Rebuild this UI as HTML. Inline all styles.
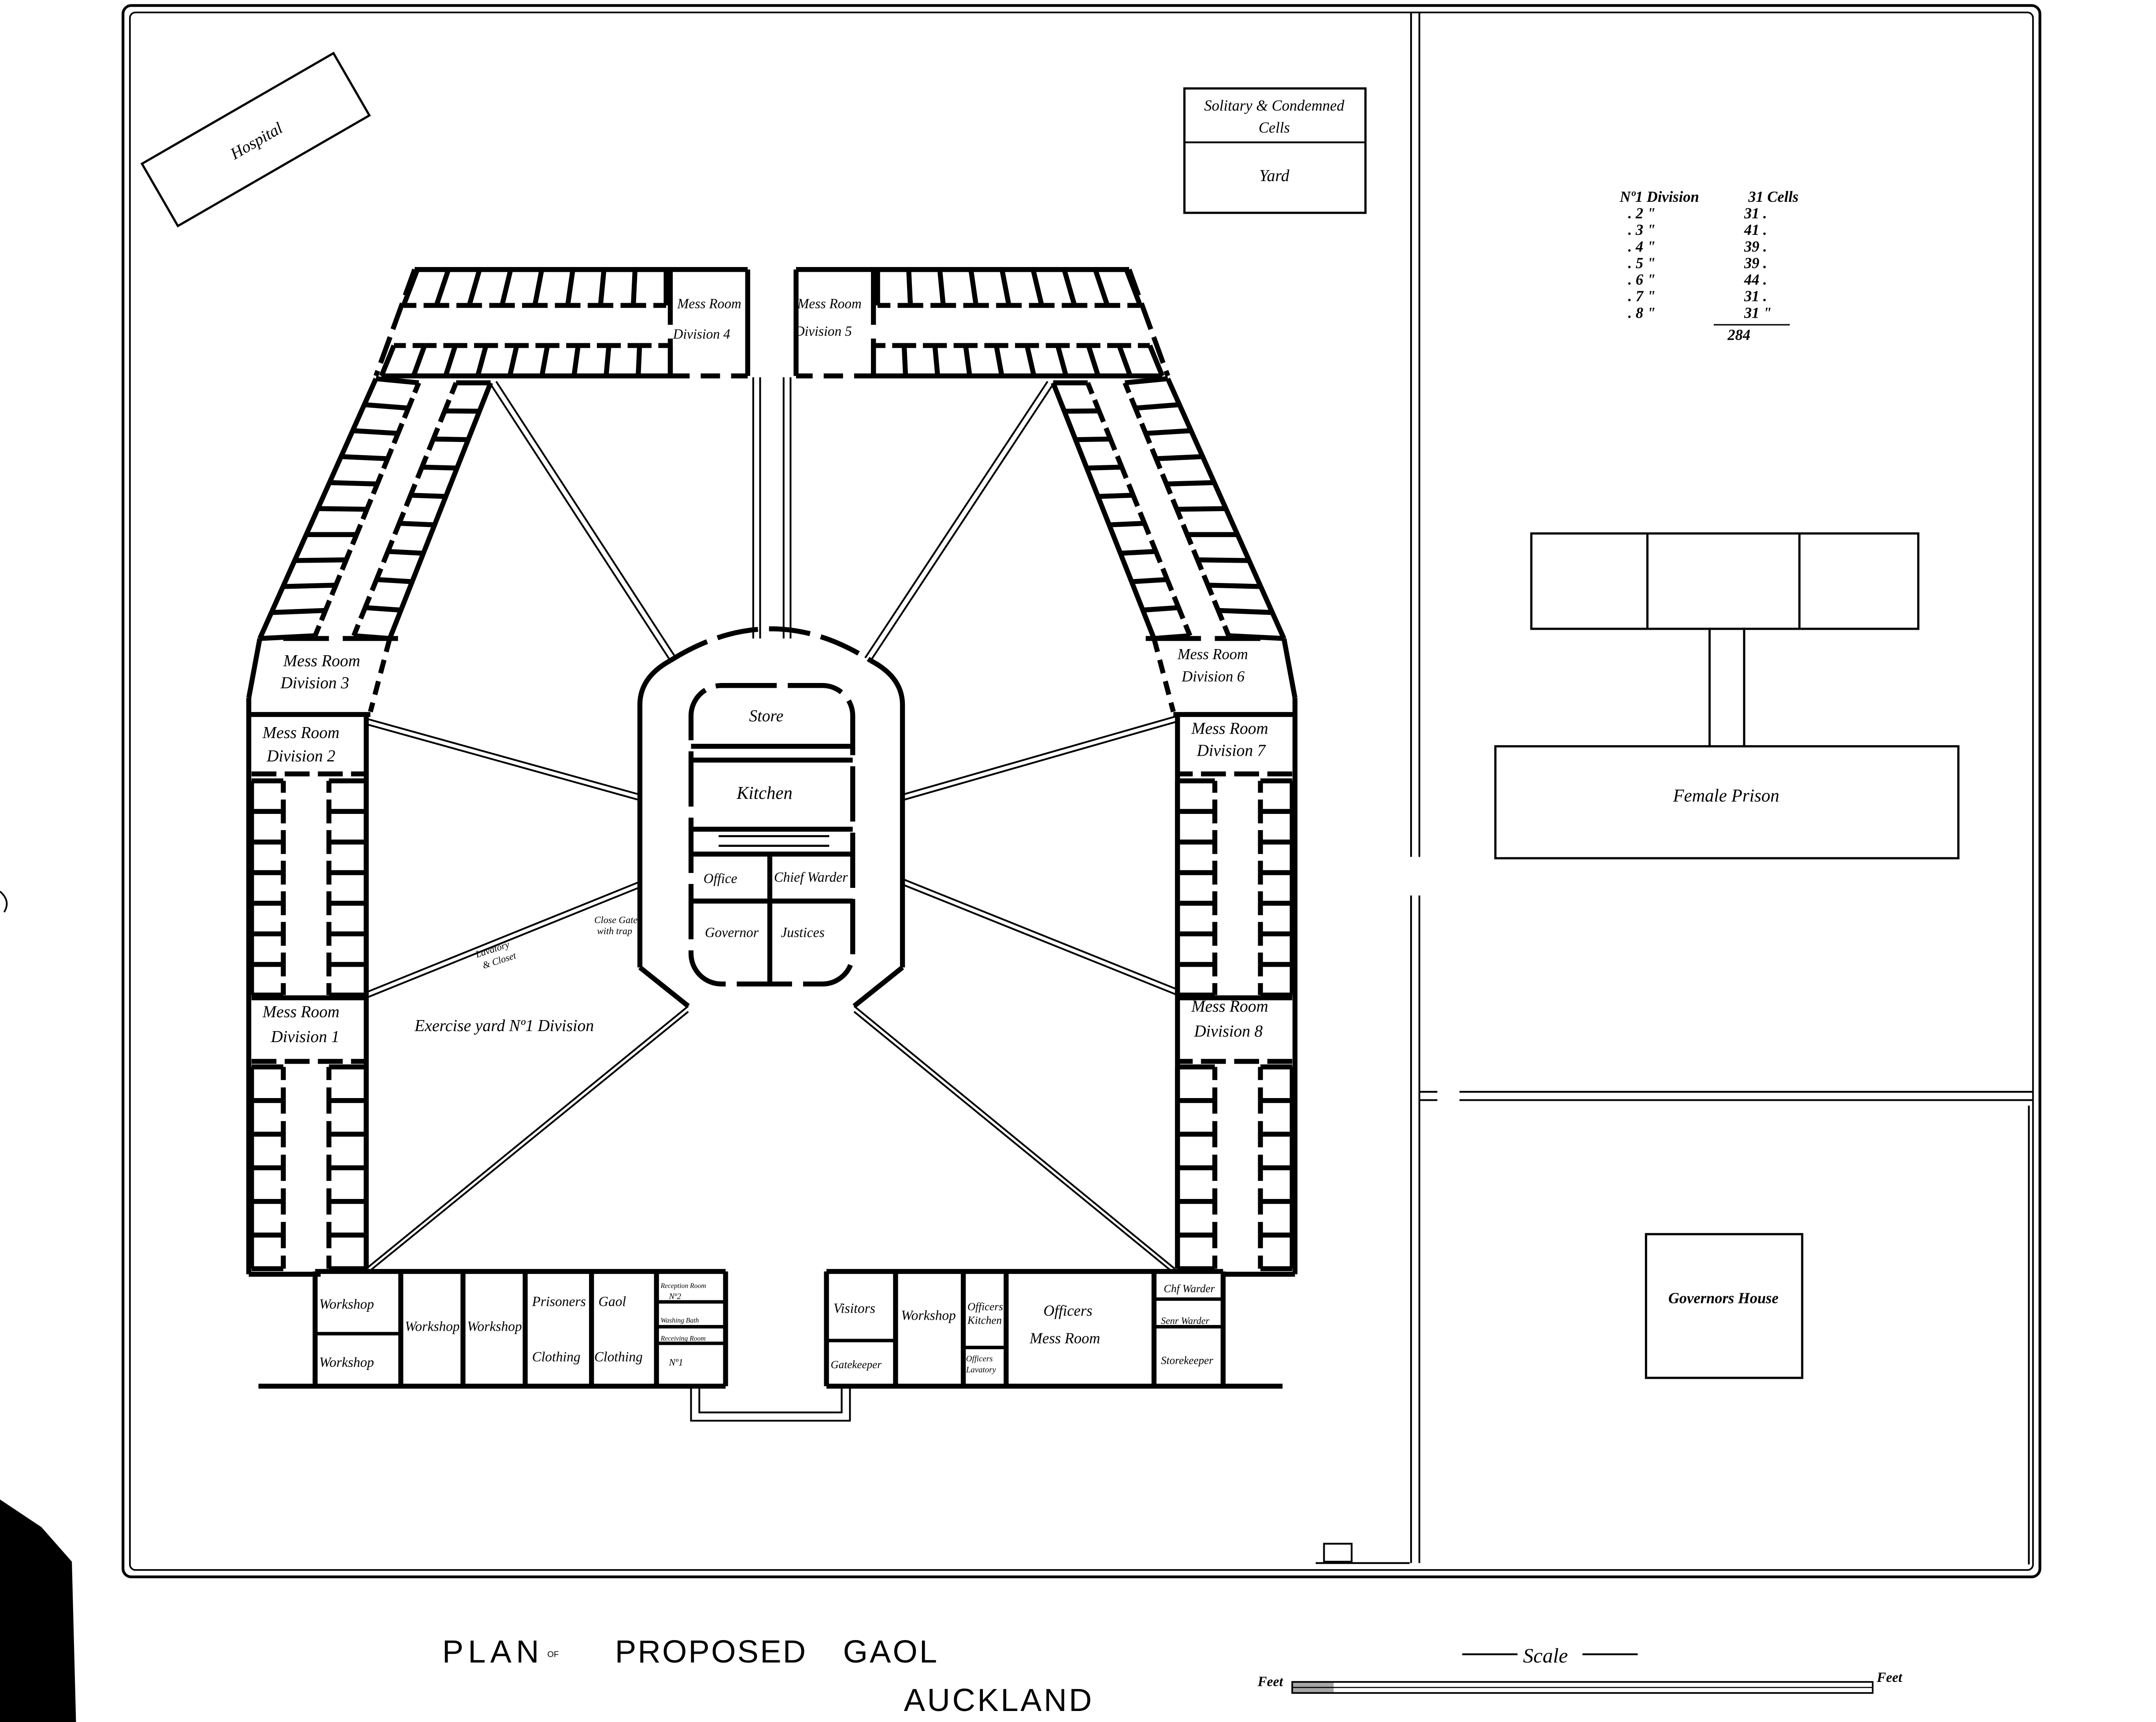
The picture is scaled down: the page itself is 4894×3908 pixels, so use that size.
<!DOCTYPE html>
<html><head><meta charset="utf-8">
<style>
html,body{margin:0;padding:0;background:#fff;}
svg{display:block;}
text{font-family:"Liberation Serif",serif;font-style:italic;fill:#000;}
.t{font-family:"Liberation Sans",sans-serif;font-style:normal;}
</style></head>
<body>
<svg id="s" width="4894" height="3908" viewBox="0 0 1560 1246" preserveAspectRatio="none" xmlns="http://www.w3.org/2000/svg">
<rect x="0" y="0" width="1560" height="1246" fill="#fff"/>
<rect x="89" y="4" width="1387" height="1137" rx="6" fill="none" stroke="#000" stroke-width="2"/>
<rect x="94" y="9" width="1377" height="1127" rx="4" fill="none" stroke="#000" stroke-width="1.2"/>
<g fill="none" stroke="#000" stroke-width="1.3">
<path d="M1021,9 L1021,620 M1027,9 L1027,620"/>
<path d="M1021,648 L1021,1131 M1027,648 L1027,1131"/>
<path d="M1027,790 L1040,790 M1027,796 L1040,796"/>
<path d="M1056,790 L1471,790 M1056,796 L1471,796"/>
<path d="M1468,800 L1468,1132"/>
<rect x="958" y="1117" width="20" height="13"/>
<path d="M952,1131 L1020,1131"/>
</g>
<g transform="translate(185,101) rotate(-30)">
<rect x="-80" y="-26" width="160" height="52" fill="none" stroke="#000" stroke-width="1.6"/>
<text x="0" y="5" font-size="12" text-anchor="middle">Hospital</text>
</g>
<rect x="857" y="64" width="131" height="90" fill="none" stroke="#000" stroke-width="1.6"/>
<line x1="857" y1="103" x2="988" y2="103" stroke="#000" stroke-width="1.3"/>
<text x="922" y="80" font-size="11" text-anchor="middle">Solitary &amp; Condemned</text>
<text x="922" y="96" font-size="11" text-anchor="middle">Cells</text>
<text x="922" y="131" font-size="12" text-anchor="middle">Yard</text>
<g font-size="11" font-weight="bold">
<text x="1172" y="146">Nº1 Division</text><text x="1265" y="146">31 Cells</text>
<text x="1178" y="158">.  2          "</text><text x="1262" y="158">31   .</text>
<text x="1178" y="170">.  3          "</text><text x="1262" y="170">41   .</text>
<text x="1178" y="182">.  4          "</text><text x="1262" y="182">39   .</text>
<text x="1178" y="194">.  5          "</text><text x="1262" y="194">39   .</text>
<text x="1178" y="206">.  6          "</text><text x="1262" y="206">44   .</text>
<text x="1178" y="218">.  7          "</text><text x="1262" y="218">31   .</text>
<text x="1178" y="230">.  8          "</text><text x="1262" y="230">31   "</text>
<text x="1250" y="246">284</text>
</g>
<line x1="1240" y1="235" x2="1295" y2="235" stroke="#000" stroke-width="1"/>
<g fill="none" stroke="#000" stroke-width="1.6">
<rect x="1108" y="386" width="280" height="69"/>
<line x1="1192" y1="386" x2="1192" y2="455"/>
<line x1="1302" y1="386" x2="1302" y2="455"/>
<path d="M1237,455 L1237,540 M1262,455 L1262,540"/>
<rect x="1082" y="540" width="335" height="81"/>
<rect x="1191" y="893" width="113" height="104"/>
</g>
<text x="1249" y="580" font-size="13" text-anchor="middle">Female Prison</text>
<text x="1247" y="943" font-size="11" text-anchor="middle" font-weight="bold">Governors House</text>
<g id="L" stroke="#000" fill="none" stroke-width="3.6"></g>
<g id="R" stroke="#000" fill="none" stroke-width="3.6" transform="matrix(-1 0 0 1 1117 0)"></g>
<g id="C" stroke="#000" fill="none" stroke-width="3.6">
<path d="M463,700 L463,510 Q463,490 485,478" />
<path d="M653,700 L653,510 Q653,490 630,478"/>
<path d="M485,478 Q558,432 630,478" stroke-dasharray="30,8"/>
<path d="M463,700 L498,728 M653,700 L618,728"/>
<rect x="500" y="496" width="117" height="216" rx="22" stroke-dasharray="40,8"/>
<path d="M500,540 L617,540 M500,550 L617,550 M500,600 L617,600 M500,618 L617,618 M500,652 L617,652 M557,618 L557,712"/>
<path d="M520,605 L600,605 M520,612 L600,612" stroke-width="1.5"/>
<path d="M187,1003 L525,1003 M228,920 L525,920" />
<path d="M228,920 L228,1003 M290,920 L290,1003 M335,920 L335,1003 M380,920 L380,1003 M428,920 L428,1003 M475,920 L475,1003 M525,920 L525,1003"/>
<path d="M228,965 L290,965 M475,942 L525,942 M475,960 L525,960 M475,972 L525,972" stroke-width="2.5"/>
<path d="M598,920 L885,920 M598,1003 L928,1003"/>
<path d="M598,920 L598,1003 M648,920 L648,1003 M697,920 L697,1003 M728,920 L728,1003 M835,920 L835,1003 M885,920 L885,1003"/>
<path d="M598,970 L648,970 M697,975 L728,975 M835,940 L885,940 M835,960 L885,960" stroke-width="2.5"/>
</g>
<g fill="none" stroke="#000" stroke-width="1.3">
<path d="M500,1003 L500,1028 L615,1028 L615,1003 M506,1003 L506,1022 L609,1022 L609,1003"/>
<path d="M545,273 L545,462 M550,273 L550,462 M572,273 L572,462 M567,273 L567,462"/>
<path d="M355,278 L485,478 M359,276 L489,476"/>
<path d="M762,278 L630,478 M758,276 L626,476"/>
<path d="M265,520 L463,575 M265,524 L463,579"/>
<path d="M265,718 L463,638 M265,722 L463,642"/>
<path d="M852,518 L653,575 M852,522 L653,579"/>
<path d="M852,716 L653,636 M852,720 L653,640"/>
<path d="M498,728 L265,918 M498,732 L267,920"/>
<path d="M618,728 L850,918 M618,732 L848,920"/>
</g>
<g font-size="12">
<text x="490" y="223" font-size="10">Mess Room</text><text x="487" y="245" font-size="10">Division 4</text>
<text x="577" y="223" font-size="10">Mess Room</text><text x="575" y="243" font-size="10">Division 5</text>
<text x="205" y="482">Mess Room</text><text x="203" y="498">Division 3</text>
<text x="852" y="477" font-size="11">Mess Room</text><text x="855" y="493" font-size="11">Division 6</text>
<text x="190" y="534">Mess Room</text><text x="193" y="551">Division 2</text>
<text x="862" y="531">Mess Room</text><text x="866" y="547">Division 7</text>
<text x="190" y="736">Mess Room</text><text x="196" y="754">Division 1</text>
<text x="862" y="732">Mess Room</text><text x="864" y="750">Division 8</text>
<text x="300" y="746">Exercise yard Nº1 Division</text>
<text x="542" y="522" font-size="12">Store</text>
<text x="533" y="578" font-size="13">Kitchen</text>
<text x="509" y="639" font-size="10">Office</text><text x="560" y="638" font-size="10">Chief Warder</text>
<text x="510" y="678" font-size="10">Governor</text><text x="565" y="678" font-size="10">Justices</text>
<text x="430" y="668" font-size="7">Close Gate</text><text x="432" y="676" font-size="7">with trap</text>
<text x="345" y="693" font-size="7" transform="rotate(-18 345 693)">Lavatory</text>
<text x="350" y="701" font-size="7" transform="rotate(-18 350 701)">&amp; Closet</text>
<g font-size="10">
<text x="231" y="947">Workshop</text><text x="231" y="989">Workshop</text>
<text x="293" y="963">Workshop</text><text x="338" y="963">Workshop</text>
<text x="385" y="945">Prisoners</text><text x="385" y="985">Clothing</text>
<text x="433" y="945">Gaol</text><text x="430" y="985">Clothing</text>
<text x="603" y="950">Visitors</text><text x="652" y="955">Workshop</text>
<text x="601" y="990" font-size="8">Gatekeeper</text>
<text x="700" y="948" font-size="8">Officers</text><text x="700" y="958" font-size="8">Kitchen</text>
<text x="699" y="985" font-size="6">Officers</text><text x="699" y="993" font-size="6">Lavatory</text>
<text x="755" y="952" font-size="11">Officers</text><text x="745" y="972" font-size="11">Mess Room</text>
<text x="842" y="935" font-size="8">Chf Warder</text><text x="840" y="958" font-size="7">Senr Warder</text><text x="840" y="987" font-size="8">Storekeeper</text>
<text x="478" y="932" font-size="5">Reception Room</text><text x="484" y="940" font-size="6">Nº2</text>
<text x="478" y="957" font-size="5">Washing Bath</text><text x="478" y="970" font-size="5">Receiving Room</text><text x="484" y="988" font-size="7">Nº1</text>
</g>
</g>
<g font-size="23">
<text class="t" x="320" y="1203" textLength="70" lengthAdjust="spacing">PLAN</text>
<text class="t" x="396" y="1199" font-size="6">OF</text>
<text class="t" x="445" y="1203" textLength="138" lengthAdjust="spacing">PROPOSED</text>
<text class="t" x="610" y="1203" textLength="68" lengthAdjust="spacing">GAOL</text>
<text class="t" x="654" y="1238" textLength="136" lengthAdjust="spacing">AUCKLAND</text>
</g>
<text x="1102" y="1203" font-size="15">Scale</text>
<path d="M1058,1197 L1098,1197 M1145,1197 L1185,1197" stroke="#000" stroke-width="1.3"/>
<text x="910" y="1220" font-size="10" font-weight="bold">Feet</text>
<text x="1358" y="1217" font-size="10" font-weight="bold">Feet</text>
<rect x="935" y="1217" width="420" height="8" fill="none" stroke="#000" stroke-width="1.2"/>
<line x1="935" y1="1221" x2="1355" y2="1221" stroke="#000" stroke-width="0.8"/>
<rect x="935" y="1217" width="30" height="8" fill="#000" opacity="0.35"/>
<path d="M0,1085 L30,1105 L52,1130 L55,1246 L0,1246 Z" fill="#000"/>
<path d="M0,645 Q8,652 3,660" stroke="#000" fill="none" stroke-width="1.2"/>
</svg>
<script>
(function(){
var NS="http://www.w3.org/2000/svg";
function ln(g,x1,y1,x2,y2,extra){var l=document.createElementNS(NS,"line");l.setAttribute("x1",x1);l.setAttribute("y1",y1);l.setAttribute("x2",x2);l.setAttribute("y2",y2);if(extra)for(var k in extra)l.setAttribute(k,extra[k]);g.appendChild(l);}
function row(g,a1,a2,b1,b2,n){
 ln(g,a1[0],a1[1],a2[0],a2[1]);
 for(var i=0;i<n;i++){var t0=i/n,t1=(i+1)/n;
  var bx0=b1[0]+(b2[0]-b1[0])*t0,by0=b1[1]+(b2[1]-b1[1])*t0,bx1=b1[0]+(b2[0]-b1[0])*t1,by1=b1[1]+(b2[1]-b1[1])*t1;
  var f=0.22;ln(g,bx0,by0,bx0+(bx1-bx0)*(0.5-f/2),by0+(by1-by0)*(0.5-f/2));
  ln(g,bx0+(bx1-bx0)*(0.5+f/2),by0+(by1-by0)*(0.5+f/2),bx1,by1);}
 for(var i=0;i<=n;i++){var t=i/n;ln(g,a1[0]+(a2[0]-a1[0])*t,a1[1]+(a2[1]-a1[1])*t,b1[0]+(b2[0]-b1[0])*t,b1[1]+(b2[1]-b1[1])*t);}
}
function side(g){
 ln(g,300,195,541,195);ln(g,541,195,541,272);
 ln(g,485,195,485,235);ln(g,485,245,485,272);
 row(g,[302,195],[482,195],[292,221],[482,221],8);
 row(g,[276,272],[485,272],[285,250],[485,250],9);
 ln(g,485,272,541,272,{"stroke-dasharray":"14,8"});
 ln(g,300,195,272,272,{"stroke-dasharray":"20,6"});
 row(g,[272,274],[188,462],[303,277],[228,460],10);
 row(g,[355,277],[282,462],[330,277],[256,460],9);
 ln(g,205,462,238,462);ln(g,248,462,288,462);
 ln(g,188,462,180,505);ln(g,282,462,268,515,{"stroke-dasharray":"10,6"});
 ln(g,180,505,180,922);ln(g,180,922,232,922);
 ln(g,180,517,268,517);
 ln(g,265,517,265,918);
 ln(g,182,560,265,560,{"stroke-dasharray":"18,6"});
 row(g,[182,565],[182,720],[205,565],[205,720],7);
 row(g,[265,565],[265,720],[238,565],[238,720],7);
 ln(g,182,722,265,722);
 ln(g,182,768,265,768,{"stroke-dasharray":"18,6"});
 row(g,[182,772],[182,918],[205,772],[205,918],6);
 row(g,[265,772],[265,918],[238,772],[238,918],6);
}
side(document.getElementById("L"));
side(document.getElementById("R"));
})();
</script>
</body></html>
